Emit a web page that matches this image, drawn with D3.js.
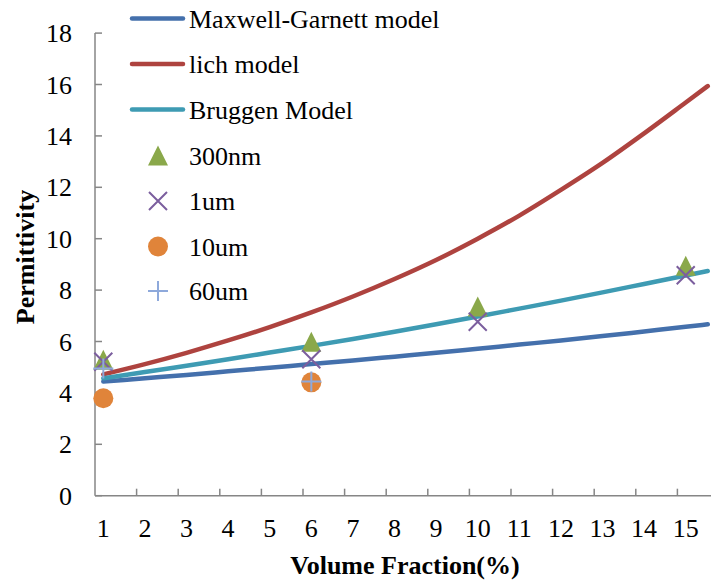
<!DOCTYPE html>
<html>
<head>
<meta charset="utf-8">
<script src="https://cdn.jsdelivr.net/npm/d3@7"></script>
<style>
  html, body { margin: 0; padding: 0; background: #fff; }
  svg { display: block; }
  svg text { font-family: 'Liberation Serif', 'Times New Roman', Tinos, 'DejaVu Serif', serif; }
</style>
</head>
<body>
<svg id="chart" width="711" height="583"></svg>
<script>
// Volume fraction (%) at which the model curves are evaluated
const modelX = [1, 2, 3, 4, 5, 6, 7, 8, 9, 10, 11, 12, 13, 14, 15, 15.53];
// Effective permittivity predicted by each mixing model
const maxwellGarnett = [4.44, 4.57, 4.70, 4.84, 4.98, 5.12, 5.26, 5.41, 5.56, 5.72, 5.88, 6.04, 6.21, 6.39, 6.57, 6.67];
const lichModel      = [4.72, 5.12, 5.56, 6.04, 6.56, 7.13, 7.75, 8.43, 9.17, 10.0, 10.9, 11.9, 12.95, 14.1, 15.3, 15.94];
const bruggenModel   = [4.57, 4.81, 5.06, 5.31, 5.57, 5.83, 6.10, 6.38, 6.67, 6.97, 7.28, 7.59, 7.91, 8.24, 8.57, 8.74];

// Measured samples, by filler particle size
const x300nm = [1, 6, 10, 15];
const y300nm = [5.29, 5.99, 7.36, 8.95];
const x1um = [1, 6, 10, 15];
const y1um = [5.21, 5.31, 6.77, 8.58];
const x10um = [1, 6];
const y10um = [3.79, 4.41];
const x60um = [1, 6];
const y60um = [4.95, 4.44];

// Axis ticks
const xTickLabels = [1, 2, 3, 4, 5, 6, 7, 8, 9, 10, 11, 12, 13, 14, 15];
const xTickMarks = [1.8, 2.8, 3.8, 4.8, 5.8, 6.8, 7.8, 8.8, 9.8, 10.8, 11.8, 12.8, 13.8, 14.8];
const yTicks = [0, 2, 4, 6, 8, 10, 12, 14, 16, 18];

const svg = d3.select("#chart");
const axisColor = "#868686";
const fontSize = 26;
const serif = "'Liberation Serif', 'Times New Roman', Tinos, 'DejaVu Serif', serif";

const x = d3.scaleLinear().domain([0.8, 15.8]).range([95, 719]);
const y = d3.scaleLinear().domain([0, 18]).range([495.7, 33.1]);

// ---- axes ----
const gx = svg.append("g").attr("transform", `translate(0,${y(0)})`);
gx.append("line").attr("x1", x(0.8)).attr("x2", x(15.8)).attr("stroke", axisColor).attr("stroke-width", 1.5);
gx.selectAll("line.tick").data(xTickMarks).join("line")
  .attr("class", "tick")
  .attr("x1", d => x(d)).attr("x2", d => x(d))
  .attr("y1", 0).attr("y2", -7)
  .attr("stroke", axisColor).attr("stroke-width", 1.5);
gx.selectAll("text").data(xTickLabels).join("text")
  .attr("x", d => x(d)).attr("y", 41)
  .attr("text-anchor", "middle")
  .attr("font-family", serif)
  .attr("font-size", fontSize).attr("fill", "#000")
  .text(d => d);

const gy = svg.append("g").attr("transform", `translate(${x(0.8)},0)`);
gy.append("line").attr("y1", y(0)).attr("y2", y(18)).attr("stroke", axisColor).attr("stroke-width", 1.5);
gy.selectAll("line.tick").data(yTicks).join("line")
  .attr("class", "tick")
  .attr("y1", d => y(d)).attr("y2", d => y(d))
  .attr("x1", 0).attr("x2", 7)
  .attr("stroke", axisColor).attr("stroke-width", 1.5);
gy.selectAll("text").data(yTicks).join("text")
  .attr("x", -23).attr("y", d => y(d))
  .attr("dy", "0.35em")
  .attr("text-anchor", "end")
  .attr("font-family", serif)
  .attr("font-size", fontSize).attr("fill", "#000")
  .text(d => d);

// ---- axis titles ----
svg.append("text")
  .attr("x", 405).attr("y", 574)
  .attr("text-anchor", "middle")
  .attr("font-family", serif)
  .attr("font-size", fontSize).attr("font-weight", "bold")
  .text("Volume Fraction(%)");
svg.append("text")
  .attr("transform", "translate(34,257) rotate(-90)")
  .attr("text-anchor", "middle")
  .attr("font-family", serif)
  .attr("font-size", fontSize).attr("font-weight", "bold")
  .text("Permittivity");

// ---- model curves ----
const line = d3.line().x(d => x(d[0])).y(d => y(d[1])).curve(d3.curveMonotoneX);
const curves = [
  { name: "Maxwell-Garnett model", values: maxwellGarnett, color: "#4470AC" },
  { name: "lich model", values: lichModel, color: "#AE433F" },
  { name: "Bruggen Model", values: bruggenModel, color: "#3E9BB3" }
];
curves.forEach(c => {
  svg.append("path")
    .datum(modelX.map((v, i) => [v, c.values[i]]))
    .attr("d", line)
    .attr("fill", "none")
    .attr("stroke", c.color)
    .attr("stroke-width", 4.5)
    .attr("stroke-linecap", "round");
});

// ---- marker shapes ----
const markers = {
  triangle: (g, cx, cy, color) => g.append("path")
    .attr("d", `M${cx},${cy - 10}L${cx + 10},${cy + 10}L${cx - 10},${cy + 10}Z`)
    .attr("fill", color),
  cross: (g, cx, cy, color) => g.append("path")
    .attr("d", `M${cx - 9},${cy - 9}L${cx + 9},${cy + 9}M${cx + 9},${cy - 9}L${cx - 9},${cy + 9}`)
    .attr("stroke", color).attr("stroke-width", 2).attr("fill", "none"),
  circle: (g, cx, cy, color) => g.append("circle")
    .attr("cx", cx).attr("cy", cy).attr("r", 10)
    .attr("fill", color),
  plus: (g, cx, cy, color) => g.append("path")
    .attr("d", `M${cx - 10},${cy}L${cx + 10},${cy}M${cx},${cy - 10}L${cx},${cy + 10}`)
    .attr("stroke", color).attr("stroke-width", 2).attr("fill", "none")
};

const samples = [
  { name: "300nm", xs: x300nm, ys: y300nm, shape: "triangle", color: "#8AA84A" },
  { name: "1um", xs: x1um, ys: y1um, shape: "cross", color: "#7B5E9E" },
  { name: "10um", xs: x10um, ys: y10um, shape: "circle", color: "#E0843A" },
  { name: "60um", xs: x60um, ys: y60um, shape: "plus", color: "#8EA9DB" }
];
const gm = svg.append("g");
samples.forEach(s => {
  s.xs.forEach((v, i) => markers[s.shape](gm, x(v), y(s.ys[i]), s.color));
});

// ---- legend ----
const legend = svg.append("g");
const rowY = [18.5, 64, 109.5, 155.5, 201, 246.5, 291];
curves.forEach((c, i) => {
  legend.append("line")
    .attr("x1", 132).attr("x2", 183)
    .attr("y1", rowY[i]).attr("y2", rowY[i])
    .attr("stroke", c.color).attr("stroke-width", 4.5).attr("stroke-linecap", "round");
  legend.append("text")
    .attr("x", 189).attr("y", rowY[i]).attr("dy", "0.35em")
    .attr("font-family", serif)
    .attr("font-size", fontSize).text(c.name);
});
samples.forEach((s, j) => {
  const ry = rowY[j + 3];
  markers[s.shape](legend, 158, ry, s.color);
  legend.append("text")
    .attr("x", 189).attr("y", ry).attr("dy", "0.35em")
    .attr("font-family", serif)
    .attr("font-size", fontSize).text(s.name);
});
</script>
</body>
</html>
